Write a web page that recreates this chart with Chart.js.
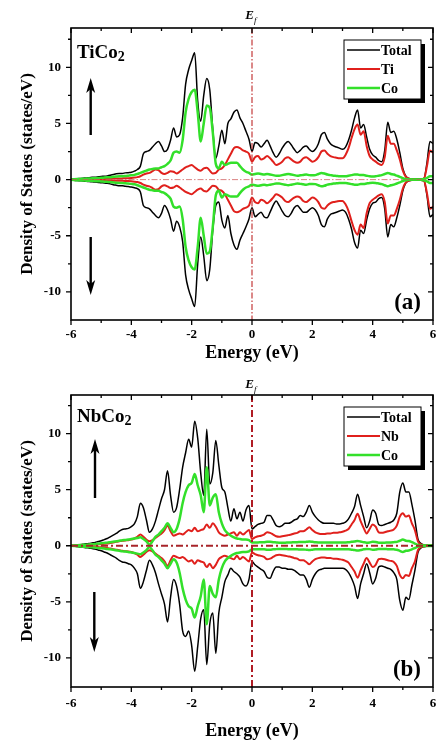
<!DOCTYPE html>
<html>
<head>
<meta charset="utf-8">
<script src="https://cdn.jsdelivr.net/npm/chart.js@4.4.1/dist/chart.umd.min.js"></script>
<style>
  html, body { margin: 0; padding: 0; background: #fff; }
  #wrap { position: relative; width: 436px; height: 745px; overflow: hidden; }
  canvas { position: absolute; left: 0; }
</style>
</head>
<body>
<div id="wrap">
  <canvas id="dosA" width="436" height="372" style="top:0"></canvas>
  <canvas id="dosB" width="436" height="373" style="top:372px"></canvas>
</div>
<script>
/* ========================= */
/* DATA */
/* ========================= */
const energy = [
  -6.0, -5.9, -5.8, -5.7, -5.6, -5.5, -5.4, -5.3, -5.2, -5.1,
  -5.0, -4.9, -4.8, -4.7, -4.6, -4.5, -4.4, -4.3, -4.2, -4.1,
  -4.0, -3.9, -3.8, -3.7, -3.6, -3.5, -3.4, -3.3, -3.2, -3.1,
  -3.0, -2.9, -2.8, -2.7, -2.6, -2.5, -2.4, -2.3, -2.2, -2.1,
  -2.0, -1.9, -1.8, -1.7, -1.6, -1.5, -1.4, -1.3, -1.2, -1.1,
  -1.0, -0.9, -0.8, -0.7, -0.6, -0.5, -0.4, -0.3, -0.2, -0.1,
  0.0, 0.1, 0.2, 0.3, 0.4, 0.5, 0.6, 0.7, 0.8, 0.9,
  1.0, 1.1, 1.2, 1.3, 1.4, 1.5, 1.6, 1.7, 1.8, 1.9,
  2.0, 2.1, 2.2, 2.3, 2.4, 2.5, 2.6, 2.7, 2.8, 2.9,
  3.0, 3.1, 3.2, 3.3, 3.4, 3.5, 3.6, 3.7, 3.8, 3.9,
  4.0, 4.1, 4.2, 4.3, 4.4, 4.5, 4.6, 4.7, 4.8, 4.9,
  5.0, 5.1, 5.2, 5.3, 5.4, 5.5, 5.6, 5.7, 5.8, 5.9,
  6.0
];

// TiCo2 (a)
const tiCo2TotalUp = [
  0, 0.05, 0.08, 0.1, 0.12, 0.15, 0.17, 0.2, 0.22, 0.25,
  0.28, 0.3, 0.33, 0.38, 0.45, 0.52, 0.55, 0.55, 0.6, 0.62,
  0.65, 0.75, 0.9, 1.2, 2.3, 2.5, 2.6, 2.9, 3.2, 3.4,
  3.0, 2.5, 2.7, 3.5, 4.6, 3.8, 4.0, 5.5, 8.5, 9.8,
  10.6, 11.3, 7.0, 5.2, 7.5, 9.0, 8.0, 4.5, 1.9, 3.0,
  4.4, 3.2, 5.0, 5.4, 6.0, 6.2, 5.5, 5.0, 4.3, 3.6,
  2.5, 3.3, 3.2, 2.9, 3.2, 3.5, 3.0, 2.4, 2.0, 2.3,
  2.8, 3.2, 3.4, 3.1, 2.7, 2.4, 2.6, 2.9, 3.0, 2.7,
  2.5, 2.7, 3.2, 4.0, 4.2, 3.6, 3.2, 3.0, 2.9, 2.8,
  2.7, 2.9, 3.5, 4.4, 5.5, 6.2, 4.6, 4.9, 3.8, 2.7,
  2.2, 2.0, 1.7, 1.6, 2.6, 5.1, 4.2, 4.3, 3.6, 2.4,
  1.0, 0.3, 0.1, 0.05, 0.05, 0.05, 0.05, 0.1, 1.5, 3.4,
  3.2
];
const tiCo2TiUp = [
  0, 0.01, 0.02, 0.02, 0.03, 0.03, 0.04, 0.04, 0.05, 0.05,
  0.06, 0.06, 0.07, 0.08, 0.09, 0.1, 0.1, 0.11, 0.12, 0.13,
  0.15, 0.18, 0.22, 0.3, 0.45, 0.55, 0.6, 0.75, 0.9, 0.85,
  0.6, 0.5, 0.6, 0.75, 0.7, 0.55, 0.7, 0.9, 1.1, 1.2,
  1.3, 1.1, 0.9, 0.8, 1.0, 1.05, 0.8, 0.55, 0.6, 0.9,
  1.0, 1.3, 1.8, 2.3, 2.8, 2.9, 2.8, 2.6, 2.5, 2.3,
  1.6, 2.0, 2.1, 1.8, 1.9, 2.1, 1.9, 1.6, 1.3, 1.4,
  1.6, 1.9, 2.0, 1.8, 1.6, 1.5, 1.6, 1.9, 2.0, 1.8,
  1.6, 1.7, 2.0, 2.5, 2.6, 2.3, 2.1, 2.0, 1.95, 1.9,
  1.9, 2.2, 2.8, 3.7, 4.5, 4.9, 4.0, 4.3, 3.0, 2.1,
  1.8, 1.6, 1.4, 1.3, 2.0, 3.9, 3.2, 3.2, 2.6, 1.8,
  0.8, 0.25, 0.08, 0.03, 0.03, 0.03, 0.03, 0.08, 1.2, 2.6,
  2.4
];
const tiCo2CoUp = [
  0, 0.03, 0.05, 0.06, 0.08, 0.09, 0.1, 0.12, 0.13, 0.15,
  0.16, 0.18, 0.2, 0.22, 0.25, 0.28, 0.3, 0.3, 0.32, 0.35,
  0.38, 0.42, 0.5, 0.6, 0.7, 0.8, 0.9, 0.95, 1.0, 1.0,
  1.1, 1.2, 1.4, 1.7, 2.4, 2.5, 2.4, 3.5, 6.0, 7.2,
  7.8, 8.0, 6.0, 3.4, 5.0, 6.6, 6.4, 4.2, 1.4, 1.0,
  1.6, 1.3, 1.4, 1.5, 1.5, 1.5, 1.2, 0.9, 0.7, 0.6,
  0.45, 0.5, 0.55, 0.5, 0.45, 0.5, 0.45, 0.4, 0.35, 0.35,
  0.4, 0.45, 0.5, 0.45, 0.4, 0.35, 0.38, 0.42, 0.45, 0.4,
  0.38, 0.4, 0.5, 0.6, 0.55, 0.45, 0.4, 0.35, 0.33, 0.3,
  0.3, 0.3, 0.35, 0.4, 0.45, 0.45, 0.4, 0.4, 0.35, 0.3,
  0.28, 0.3, 0.35, 0.4, 0.5, 0.6, 0.5, 0.45, 0.35, 0.25,
  0.12, 0.05, 0.02, 0.02, 0.02, 0.02, 0.02, 0.05, 0.15, 0.3,
  0.3
];
const tiCo2TotalDown = [
  0, -0.05, -0.08, -0.1, -0.12, -0.15, -0.17, -0.2, -0.22, -0.25,
  -0.28, -0.3, -0.33, -0.38, -0.45, -0.5, -0.55, -0.55, -0.6, -0.62,
  -0.65, -0.72, -0.8, -1.1, -2.3, -2.5, -2.6, -2.9, -3.2, -3.4,
  -3.0, -2.3, -2.7, -3.5, -4.6, -3.7, -4.2, -5.5, -8.5, -9.8,
  -10.6, -11.3, -7.5, -5.1, -6.8, -9.0, -8.0, -4.5, -2.3, -2.0,
  -3.6, -4.3, -3.2, -4.8, -5.8, -6.2, -5.4, -4.8, -4.2, -3.5,
  -2.5, -3.3, -3.1, -2.9, -3.3, -3.4, -2.9, -2.3, -1.9, -2.3,
  -2.8, -3.2, -3.3, -3.0, -2.5, -2.3, -2.6, -2.9, -2.9, -2.7,
  -2.5, -2.7, -3.2, -4.0, -4.2, -3.5, -3.1, -3.0, -2.9, -2.8,
  -2.7, -2.9, -3.5, -4.4, -5.6, -6.1, -4.5, -4.8, -3.6, -2.6,
  -2.1, -2.0, -1.7, -1.6, -2.6, -5.1, -4.0, -4.2, -3.4, -2.3,
  -1.0, -0.3, -0.1, -0.05, -0.05, -0.05, -0.05, -0.1, -1.4, -3.3,
  -3.1
];
const tiCo2TiDown = [
  0, -0.01, -0.02, -0.02, -0.03, -0.03, -0.04, -0.04, -0.05, -0.05,
  -0.06, -0.06, -0.07, -0.08, -0.09, -0.1, -0.1, -0.11, -0.12, -0.13,
  -0.15, -0.18, -0.22, -0.3, -0.45, -0.55, -0.6, -0.75, -0.9, -0.85,
  -0.6, -0.5, -0.6, -0.75, -0.7, -0.55, -0.7, -0.9, -1.1, -1.2,
  -1.3, -1.1, -0.9, -0.8, -1.0, -1.05, -0.8, -0.55, -0.6, -0.9,
  -1.0, -1.3, -1.8, -2.3, -2.8, -2.9, -2.8, -2.6, -2.5, -2.3,
  -1.6, -2.0, -2.1, -1.8, -1.9, -2.1, -1.9, -1.6, -1.3, -1.4,
  -1.6, -1.9, -2.0, -1.8, -1.6, -1.5, -1.6, -1.9, -2.0, -1.8,
  -1.6, -1.7, -2.0, -2.5, -2.6, -2.3, -2.1, -2.0, -1.95, -1.9,
  -1.9, -2.2, -2.8, -3.7, -4.5, -4.9, -4.0, -4.3, -3.0, -2.1,
  -1.8, -1.6, -1.4, -1.3, -2.0, -3.9, -3.2, -3.2, -2.6, -1.8,
  -0.8, -0.25, -0.08, -0.03, -0.03, -0.03, -0.03, -0.08, -1.2, -2.6,
  -2.4
];
const tiCo2CoDown = [
  0, -0.03, -0.05, -0.06, -0.08, -0.09, -0.1, -0.12, -0.13, -0.15,
  -0.16, -0.18, -0.2, -0.22, -0.25, -0.28, -0.3, -0.3, -0.32, -0.35,
  -0.38, -0.42, -0.5, -0.6, -0.7, -0.8, -0.9, -0.95, -1.0, -1.0,
  -1.1, -1.2, -1.4, -1.7, -2.4, -2.5, -2.4, -3.5, -6.0, -7.2,
  -7.8, -8.0, -6.0, -3.4, -5.0, -6.6, -6.4, -4.2, -1.4, -1.0,
  -1.6, -1.3, -1.4, -1.5, -1.5, -1.5, -1.2, -0.9, -0.7, -0.6,
  -0.45, -0.5, -0.55, -0.5, -0.45, -0.5, -0.45, -0.4, -0.35, -0.35,
  -0.4, -0.45, -0.5, -0.45, -0.4, -0.35, -0.38, -0.42, -0.45, -0.4,
  -0.38, -0.4, -0.5, -0.6, -0.55, -0.45, -0.4, -0.35, -0.33, -0.3,
  -0.3, -0.3, -0.35, -0.4, -0.45, -0.45, -0.4, -0.4, -0.35, -0.3,
  -0.28, -0.3, -0.35, -0.4, -0.5, -0.6, -0.5, -0.45, -0.35, -0.25,
  -0.12, -0.05, -0.02, -0.02, -0.02, -0.02, -0.02, -0.05, -0.15, -0.3,
  -0.3
];

// NbCo2 (b)
const nbCo2TotalUp = [
  0, 0.03, 0.06, 0.1, 0.13, 0.17, 0.2, 0.25, 0.3, 0.38,
  0.45, 0.55, 0.65, 0.8, 0.95, 1.1, 1.3, 1.45, 1.5, 1.55,
  1.7, 1.95, 2.6, 3.8, 3.4, 2.3, 1.2, 1.5, 2.2, 3.2,
  4.2, 5.0, 6.7, 4.5, 3.0, 3.4, 5.0, 7.0, 8.3, 9.5,
  8.8, 11.1, 9.6, 6.5, 4.5, 10.4, 5.5, 6.5, 9.4, 7.2,
  5.2, 4.8, 3.4, 2.2, 3.3, 2.4, 3.0, 2.2, 3.2, 3.6,
  1.5, 1.7, 1.9, 2.0, 2.1, 2.7, 2.7, 2.3, 1.8, 1.7,
  1.8, 2.0, 2.0, 2.1, 2.3, 2.4, 2.7, 2.6, 3.0, 3.6,
  3.0, 2.6, 2.3, 2.1, 2.0, 2.0, 2.0, 2.0, 1.95, 1.95,
  2.0, 2.1, 2.4, 2.9, 3.5, 4.6, 3.6, 2.6, 1.6, 2.2,
  3.2, 2.9, 1.9, 1.8, 1.9, 2.0, 2.1, 2.3, 2.9, 4.8,
  5.6, 4.8, 4.8, 3.7, 2.3, 0.6, 0.2, 0.08, 0.05, 0.05,
  0.05
];
const nbCo2NbUp = [
  0, 0.01, 0.02, 0.03, 0.04, 0.05, 0.06, 0.08, 0.1, 0.12,
  0.14, 0.17, 0.2, 0.25, 0.3, 0.35, 0.4, 0.45, 0.48, 0.5,
  0.55, 0.65, 0.8, 1.0, 0.8, 0.55, 0.4, 0.5, 0.7, 0.9,
  1.1, 1.4, 1.8, 1.3, 0.9, 1.0, 1.1, 1.0, 1.2, 1.4,
  1.3, 1.6, 1.3, 1.4, 1.5, 1.9, 1.6, 2.0, 1.7, 1.2,
  1.0, 0.9, 1.0, 1.1, 1.2, 0.9, 1.2, 1.0, 1.2, 1.4,
  0.6, 0.75, 0.85, 0.9, 1.0, 1.2, 1.15, 1.0, 0.85, 0.8,
  0.85, 0.9, 0.95, 1.0, 1.1, 1.15, 1.3, 1.3, 1.45, 1.65,
  1.4, 1.2, 1.1, 1.05, 1.05, 1.1, 1.1, 1.15, 1.15, 1.2,
  1.25, 1.35, 1.5, 1.9, 2.3, 2.85, 2.2, 1.6, 1.1, 1.5,
  1.9, 1.7, 1.2, 1.15, 1.2, 1.3, 1.35, 1.45, 1.8, 2.6,
  2.9, 2.6, 2.7, 2.0, 1.4, 0.4, 0.12, 0.05, 0.03, 0.03,
  0.03
];
const nbCo2CoUp = [
  0, 0.02, 0.04, 0.06, 0.08, 0.1, 0.12, 0.14, 0.16, 0.19,
  0.22, 0.25, 0.28, 0.32, 0.36, 0.4, 0.45, 0.5, 0.52, 0.55,
  0.6, 0.65, 0.7, 0.75, 0.6, 0.4, 0.1, 0.4, 0.8, 1.0,
  1.3, 1.6, 2.0, 1.6, 1.2, 1.5, 2.4, 3.8, 4.8, 5.4,
  5.6, 6.4, 5.4, 4.5, 3.0, 7.0, 3.6, 4.3, 4.6, 3.0,
  2.0, 1.4, 1.1, 0.9, 0.75, 0.65, 0.6, 0.55, 0.55, 0.5,
  0.3, 0.3, 0.3, 0.32, 0.32, 0.35, 0.35, 0.32, 0.3, 0.28,
  0.28, 0.28, 0.3, 0.3, 0.32, 0.32, 0.33, 0.33, 0.35, 0.38,
  0.35, 0.32, 0.3, 0.3, 0.3, 0.3, 0.3, 0.3, 0.3, 0.3,
  0.3, 0.3, 0.32, 0.35, 0.38, 0.42, 0.38, 0.32, 0.28, 0.3,
  0.35, 0.33, 0.28, 0.28, 0.28, 0.3, 0.3, 0.32, 0.35, 0.45,
  0.55, 0.45, 0.42, 0.32, 0.2, 0.08, 0.03, 0.02, 0.02, 0.02,
  0.02
];
const nbCo2TotalDown = [
  0, -0.03, -0.06, -0.1, -0.13, -0.17, -0.2, -0.25, -0.3, -0.38,
  -0.45, -0.55, -0.65, -0.8, -0.95, -1.1, -1.3, -1.45, -1.5, -1.6,
  -1.7, -2.0, -2.5, -3.8, -3.2, -2.2, -1.3, -1.7, -2.4, -3.4,
  -4.3, -5.2, -6.8, -4.6, -3.0, -3.6, -5.2, -7.6, -8.1, -7.6,
  -8.9, -11.2, -9.0, -6.5, -5.7, -10.6, -7.0, -6.0, -9.6, -6.0,
  -4.6, -3.2, -2.6, -2.0, -2.3, -2.5, -2.8, -3.4, -3.6, -3.0,
  -1.4, -1.7, -1.9, -2.1, -2.3, -2.8, -2.9, -2.3, -1.9, -1.9,
  -2.0, -2.0, -2.1, -2.1, -2.2, -2.4, -2.6, -2.6, -3.0, -3.7,
  -3.0, -2.5, -2.2, -2.1, -2.0, -2.0, -2.0, -2.0, -2.0, -2.0,
  -2.0, -2.1, -2.4, -2.9, -3.6, -4.7, -3.4, -2.5, -1.6, -2.4,
  -3.4, -2.9, -1.9, -1.8, -1.9, -2.0, -2.1, -2.4, -3.0, -4.9,
  -5.75, -4.6, -4.8, -3.5, -2.2, -0.6, -0.2, -0.08, -0.05, -0.05,
  -0.05
];
const nbCo2NbDown = [
  0, -0.01, -0.02, -0.03, -0.04, -0.05, -0.06, -0.08, -0.1, -0.12,
  -0.14, -0.17, -0.2, -0.25, -0.3, -0.35, -0.4, -0.45, -0.48, -0.5,
  -0.55, -0.65, -0.8, -1.0, -0.8, -0.55, -0.4, -0.5, -0.7, -0.9,
  -1.1, -1.4, -1.8, -1.3, -0.9, -1.0, -1.1, -1.0, -1.2, -1.4,
  -1.3, -1.6, -1.3, -1.4, -1.5, -1.9, -1.6, -2.0, -1.7, -1.2,
  -1.0, -0.9, -1.0, -1.1, -1.2, -0.9, -1.2, -1.0, -1.2, -1.4,
  -0.6, -0.75, -0.85, -0.9, -1.0, -1.2, -1.15, -1.0, -0.85, -0.8,
  -0.85, -0.9, -0.95, -1.0, -1.1, -1.15, -1.3, -1.3, -1.45, -1.65,
  -1.4, -1.2, -1.1, -1.05, -1.05, -1.1, -1.1, -1.15, -1.15, -1.2,
  -1.25, -1.35, -1.5, -1.9, -2.3, -2.85, -2.2, -1.6, -1.1, -1.5,
  -1.9, -1.7, -1.2, -1.15, -1.2, -1.3, -1.35, -1.45, -1.8, -2.6,
  -2.9, -2.6, -2.7, -2.0, -1.4, -0.4, -0.12, -0.05, -0.03, -0.03,
  -0.03
];
const nbCo2CoDown = [
  0, -0.02, -0.04, -0.06, -0.08, -0.1, -0.12, -0.14, -0.16, -0.19,
  -0.22, -0.25, -0.28, -0.32, -0.36, -0.4, -0.45, -0.5, -0.52, -0.55,
  -0.6, -0.65, -0.7, -0.75, -0.6, -0.4, -0.1, -0.4, -0.8, -1.0,
  -1.3, -1.6, -2.0, -1.6, -1.2, -1.5, -2.4, -3.8, -4.8, -5.4,
  -5.6, -6.4, -5.4, -4.5, -3.0, -7.0, -3.6, -4.3, -4.6, -3.0,
  -2.0, -1.4, -1.1, -0.9, -0.75, -0.65, -0.6, -0.55, -0.55, -0.5,
  -0.3, -0.3, -0.3, -0.32, -0.32, -0.35, -0.35, -0.32, -0.3, -0.28,
  -0.28, -0.28, -0.3, -0.3, -0.32, -0.32, -0.33, -0.33, -0.35, -0.38,
  -0.35, -0.32, -0.3, -0.3, -0.3, -0.3, -0.3, -0.3, -0.3, -0.3,
  -0.3, -0.3, -0.32, -0.35, -0.38, -0.42, -0.38, -0.32, -0.28, -0.3,
  -0.35, -0.33, -0.28, -0.28, -0.28, -0.3, -0.3, -0.32, -0.35, -0.45,
  -0.55, -0.45, -0.42, -0.32, -0.2, -0.08, -0.03, -0.02, -0.02, -0.02,
  -0.02
];

const xTickValues = [-6, -4, -2, 0, 2, 4, 6];
const xMinorValues = [-5, -3, -1, 1, 3, 5];
const yTickValues = [-10, -5, 0, 5, 10];
const yMinorValues = [-7.5, -2.5, 2.5, 7.5, 12.5];

/* ========================= */
/* STYLE */
/* ========================= */
const SERIF = "'Liberation Serif', 'Times New Roman', serif";
const COLORS = ["#000000", "#e0201c", "#33e02a"];
const WIDTHS = [1.5, 2, 2.5];

function pts(values) {
  return energy.map((e, i) => ({ x: e, y: values[i] }));
}

/* ========================= */
/* DECORATION PLUGIN */
/* ========================= */
const decorPlugin = {
  id: "decor",
  afterDatasetsDraw(chart, args, p) {
    const { ctx, chartArea: a, scales: { x, y } } = chart;
    ctx.save();

    // zero lines (dash-dot)
    const x0 = x.getPixelForValue(0);
    const y0 = y.getPixelForValue(0);
    ctx.strokeStyle = p.zeroColor;
    ctx.lineWidth = p.zeroWidth;
    ctx.setLineDash(p.dash);
    ctx.beginPath();
    ctx.moveTo(a.left, y0); ctx.lineTo(a.right, y0);
    ctx.stroke();
    ctx.strokeStyle = p.efColor;
    ctx.lineWidth = p.efWidth;
    ctx.beginPath();
    ctx.moveTo(x0, a.top); ctx.lineTo(x0, a.bottom);
    ctx.stroke();
    ctx.setLineDash([]);

    // frame
    ctx.strokeStyle = "#000";
    ctx.lineWidth = 1.6;
    ctx.strokeRect(a.left, a.top, a.right - a.left, a.bottom - a.top);

    // ticks: out on bottom/left, in on top/right
    ctx.lineWidth = 1.3;
    ctx.beginPath();
    const xt = (vals, len) => vals.forEach(v => {
      const px = x.getPixelForValue(v);
      ctx.moveTo(px, a.bottom); ctx.lineTo(px, a.bottom + len);
      ctx.moveTo(px, a.top); ctx.lineTo(px, a.top + len);
    });
    const yt = (vals, len) => vals.forEach(v => {
      const py = y.getPixelForValue(v);
      ctx.moveTo(a.left, py); ctx.lineTo(a.left - len, py);
      ctx.moveTo(a.right, py); ctx.lineTo(a.right - len, py);
    });
    xt(xTickValues, 5); xt(xMinorValues, 3);
    yt(yTickValues, 5); yt(yMinorValues, 3);
    ctx.stroke();

    // axis titles
    ctx.fillStyle = "#000";
    ctx.textAlign = "center";
    ctx.textBaseline = "alphabetic";
    ctx.font = `bold 18px ${SERIF}`;
    ctx.fillText("Energy (eV)", (a.left + a.right) / 2, p.xTitleY);
    ctx.save();
    ctx.translate(28, (a.top + a.bottom) / 2);
    ctx.rotate(-Math.PI / 2);
    ctx.textBaseline = "middle";
    ctx.font = `bold 17px ${SERIF}`;
    ctx.fillText("Density of States (states/eV)", 0, 0);
    ctx.restore();

    // E_f above the plot
    ctx.font = `italic bold 13px ${SERIF}`;
    ctx.textAlign = "right";
    ctx.fillText("E", x0 + 2, p.efY);
    ctx.font = `italic 9px ${SERIF}`;
    ctx.textAlign = "left";
    ctx.fillText("f", x0 + 2, p.efY + 4);

    // compound name with subscript
    ctx.font = `bold 19px ${SERIF}`;
    ctx.textAlign = "left";
    ctx.fillText(p.compound, a.left + 6, p.nameY);
    const w = ctx.measureText(p.compound).width;
    ctx.font = `bold 14px ${SERIF}`;
    ctx.fillText("2", a.left + 6 + w, p.nameY + 3);

    // panel label
    ctx.font = `bold 23px ${SERIF}`;
    ctx.textAlign = "right";
    ctx.fillText(p.label, a.right - 12, a.bottom - 11);

    // spin arrows
    const arrow = (ax, yTail, yTip) => {
      const dir = Math.sign(yTip - yTail);
      ctx.lineWidth = 2.4;
      ctx.beginPath();
      ctx.moveTo(ax, yTail); ctx.lineTo(ax, yTip - dir * 10);
      ctx.stroke();
      ctx.beginPath();
      ctx.moveTo(ax, yTip);
      ctx.lineTo(ax - 4.5, yTip - dir * 15);
      ctx.lineTo(ax, yTip - dir * 11);
      ctx.lineTo(ax + 4.5, yTip - dir * 15);
      ctx.closePath();
      ctx.fill();
    };
    arrow(p.arrowUp[0], p.arrowUp[1], p.arrowUp[2]);
    arrow(p.arrowDown[0], p.arrowDown[1], p.arrowDown[2]);

    // legend box with drop shadow
    const lx = 344, ly = p.legendY, lw = 77, lh = 59;
    ctx.fillStyle = "#000";
    ctx.fillRect(lx + 4, ly + 4, lw, lh);
    ctx.fillStyle = "#fff";
    ctx.fillRect(lx, ly, lw, lh);
    ctx.strokeStyle = "#000";
    ctx.lineWidth = 1;
    ctx.strokeRect(lx, ly, lw, lh);
    const names = ["Total", p.metal, "Co"];
    ctx.font = `bold 14px ${SERIF}`;
    ctx.textAlign = "left";
    ctx.textBaseline = "middle";
    names.forEach((n, i) => {
      const ry = ly + 10 + i * 19;
      ctx.strokeStyle = COLORS[i];
      ctx.lineWidth = WIDTHS[i];
      ctx.beginPath();
      ctx.moveTo(lx + 3, ry); ctx.lineTo(lx + 36, ry);
      ctx.stroke();
      ctx.fillStyle = "#000";
      ctx.fillText(n, lx + 37, ry + 1);
    });

    ctx.restore();
  }
};

/* ========================= */
/* PANELS */
/* ========================= */
function makePanel(canvasId, cfg, up, down) {
  const datasets = [];
  [0, 1, 2].forEach(i => {
    [up[i], down[i]].forEach(vals => {
      datasets.push({
        data: pts(vals),
        borderColor: COLORS[i],
        borderWidth: WIDTHS[i],
        pointRadius: 0,
        fill: false,
        cubicInterpolationMode: "monotone",
        order: 3 - i
      });
    });
  });

  return new Chart(document.getElementById(canvasId).getContext("2d"), {
    type: "line",
    data: { datasets },
    options: {
      responsive: false,
      animation: false,
      events: [],
      layout: { padding: { top: cfg.top, right: 3, left: 0, bottom: 0 } },
      plugins: { legend: { display: false }, tooltip: { enabled: false }, decor: cfg },
      scales: {
        x: {
          type: "linear", min: -6, max: 6,
          afterBuildTicks: s => { s.ticks = xTickValues.map(v => ({ value: v })); },
          afterFit: s => { s.height = cfg.height - cfg.bottom; s.paddingLeft = 0; s.paddingRight = 0; },
          grid: { display: false, drawTicks: false }, border: { display: false },
          ticks: { padding: cfg.xPad, color: "#000", font: { family: SERIF, size: 13, weight: "bold" }, maxRotation: 0, autoSkip: false }
        },
        y: {
          type: "linear", min: cfg.yMin, max: cfg.yMax,
          afterBuildTicks: s => { s.ticks = yTickValues.map(v => ({ value: v })); },
          afterFit: s => { s.width = 71; s.paddingTop = 0; s.paddingBottom = 0; },
          grid: { display: false, drawTicks: false }, border: { display: false },
          ticks: { padding: 10, color: "#000", font: { family: SERIF, size: 13, weight: "bold" } }
        }
      }
    },
    plugins: [decorPlugin]
  });
}

makePanel("dosA", {
  height: 372, top: 28, bottom: 320, yMin: -12.5, yMax: 13.5, xPad: 7,
  compound: "TiCo", metal: "Ti", label: "(a)",
  xTitleY: 358, efY: 19, nameY: 58, legendY: 40,
  arrowUp: [90.7, 135, 78], arrowDown: [90.7, 237, 295],
  zeroColor: "rgba(205,90,90,0.75)", zeroWidth: 1, efColor: "#c43a3a", efWidth: 1.2,
  dash: [6, 2, 1.5, 2]
}, [tiCo2TotalUp, tiCo2TiUp, tiCo2CoUp], [tiCo2TotalDown, tiCo2TiDown, tiCo2CoDown]);

makePanel("dosB", {
  height: 373, top: 23, bottom: 315, yMin: -12.6, yMax: 13.45, xPad: 9,
  compound: "NbCo", metal: "Nb", label: "(b)",
  xTitleY: 364, efY: 16, nameY: 50, legendY: 35,
  arrowUp: [95, 126, 67], arrowDown: [94.3, 220, 280],
  zeroColor: "#a8242a", zeroWidth: 1.8, efColor: "#b01c24", efWidth: 2,
  dash: [7, 3, 2, 3]
}, [nbCo2TotalUp, nbCo2NbUp, nbCo2CoUp], [nbCo2TotalDown, nbCo2NbDown, nbCo2CoDown]);
</script>
</body>
</html>
